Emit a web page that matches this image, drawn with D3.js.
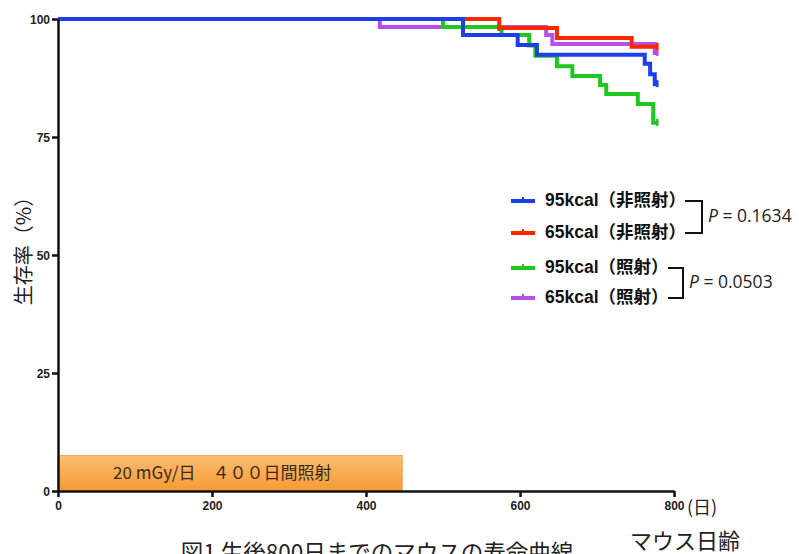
<!DOCTYPE html>
<html>
<head>
<meta charset="utf-8">
<script src="https://cdn.jsdelivr.net/npm/d3@7"></script>
<style>
  html, body { margin: 0; padding: 0; background: #fff; }
  svg { display: block; }
</style>
</head>
<body>
<svg id="chart" width="799" height="554"></svg>
<script>
// Survival (Kaplan-Meier) data: day of each step and survival % after it
const seriesNames = ["95kcal（非照射）", "65kcal（非照射）", "95kcal（照射）", "65kcal（照射）"];
const seriesColors = ["#1d3fe8", "#ff2600", "#1ec81e", "#b84fe6"];

const days95Ctrl = [0, 526, 597, 622, 762, 769, 775, 779];
const surv95Ctrl = [100, 96.6, 94.5, 92.4, 90.5, 88.3, 86.2, 86.2];

const days65Ctrl = [0, 573, 648, 745, 779];
const surv65Ctrl = [100, 98.1, 96.0, 94.1, 94.1];

const days95Irr = [0, 500, 576, 612, 620, 648, 668, 704, 712, 753, 773, 779];
const surv95Irr = [100, 98.3, 96.6, 94.4, 92.2, 90.0, 87.9, 86.0, 84.1, 82.0, 78.0, 78.0];

const days65Irr = [0, 418, 634, 642, 775, 779];
const surv65Irr = [100, 98.3, 96.6, 94.7, 92.8, 92.8];

// censored observations (tick marks)
const censor95Ctrl = [779];
const censor65Ctrl = [573, 779];
const censor95Irr = [779];
const censor65Irr = [779];

const yTicks = [0, 25, 50, 75, 100];
const xTicks = [0, 200, 400, 600, 800];

// irradiation period
const irradStart = 0;
const irradEnd = 447;
const irradLabel = "20 mGy/日　４００日間照射";

const pValues = ["0.1634", "0.0503"];

const yTitle = "生存率（%）";
const xUnit = "(日)";
const xTitle = "マウス日齢";
const figTitle = "図1 生後800日までのマウスの寿命曲線";

// ---------------------------------------------------------------
const svg = d3.select("#chart");
const latin = "'Liberation Sans', Arial, 'Noto Sans CJK JP', sans-serif";
const jp = "'Noto Sans CJK JP', 'Liberation Sans', sans-serif";

const x = d3.scaleLinear().domain([0, 800]).range([58, 674]);
const y = d3.scaleLinear().domain([0, 100]).range([491, 19]);

const defs = svg.append("defs");
const grad = defs.append("linearGradient").attr("id", "barGrad")
  .attr("x1", 0).attr("y1", 0).attr("x2", 0).attr("y2", 1);
grad.append("stop").attr("offset", "0%").attr("stop-color", "#fbbd72");
grad.append("stop").attr("offset", "100%").attr("stop-color", "#f69a33");

// irradiation bar
const barG = svg.append("g");
barG.append("rect")
  .attr("x", x(irradStart))
  .attr("y", y(7.5))
  .attr("width", x(irradEnd) - x(irradStart))
  .attr("height", y(0) - y(7.5))
  .attr("fill", "url(#barGrad)")
  .attr("stroke", "#f3a04a")
  .attr("stroke-width", 1);
barG.append("text")
  .attr("x", 113)
  .attr("y", (y(7.5) + y(0)) / 2 + 1)
  .attr("dominant-baseline", "middle")
  .attr("font-family", jp)
  .attr("font-size", 17)
  .attr("fill", "#3a2a1a")
  .text(irradLabel);

// survival curves (drawn bottom to top)
const series = [
  { days: days65Irr, surv: surv65Irr, censor: censor65Irr, color: seriesColors[3] },
  { days: days95Irr, surv: surv95Irr, censor: censor95Irr, color: seriesColors[2] },
  { days: days65Ctrl, surv: surv65Ctrl, censor: censor65Ctrl, color: seriesColors[1] },
  { days: days95Ctrl, surv: surv95Ctrl, censor: censor95Ctrl, color: seriesColors[0] }
];

const line = d3.line()
  .x(d => x(d[0]))
  .y(d => y(d[1]))
  .curve(d3.curveStepAfter);

function survAt(s, day) {
  let v = s.surv[0];
  for (let i = 0; i < s.days.length; i++) if (s.days[i] <= day) v = s.surv[i];
  return v;
}

const curves = svg.append("g");
series.forEach(s => {
  const pts = s.days.map((d, i) => [d, s.surv[i]]);
  curves.append("path")
    .attr("d", line(pts))
    .attr("fill", "none")
    .attr("stroke", s.color)
    .attr("stroke-width", 4)
    .attr("stroke-linejoin", "miter");
  curves.selectAll(null)
    .data(s.censor)
    .enter().append("line")
    .attr("x1", d => x(d) - 0.5).attr("x2", d => x(d) - 0.5)
    .attr("y1", d => y(survAt(s, d)) - 4)
    .attr("y2", d => y(survAt(s, d)) + 3)
    .attr("stroke", s.color)
    .attr("stroke-width", 2.5);
});

// axes
const yAxis = d3.axisLeft(y).tickValues(yTicks).tickSize(6).tickSizeOuter(0).tickPadding(2);
const xAxis = d3.axisBottom(x).tickValues(xTicks).tickSize(6).tickSizeOuter(0).tickPadding(4);

const gy = svg.append("g").attr("transform", `translate(${x(0)},0)`).call(yAxis);
const gx = svg.append("g").attr("transform", `translate(0,${y(0)})`).call(xAxis);

[gx, gy].forEach(g => {
  g.select(".domain").attr("stroke", "#111").attr("stroke-width", 2.5);
  g.selectAll(".tick line").attr("stroke", "#111").attr("stroke-width", 2.5);
  g.selectAll(".tick text")
    .attr("font-family", latin)
    .attr("font-weight", "bold")
    .attr("font-size", 12)
    .attr("fill", "#222");
});
gy.selectAll(".tick text").attr("dy", "0.35em");

// unit label after last x tick
svg.append("text")
  .attr("x", x(800) + 13)
  .attr("y", y(0) + 23)
  .attr("font-family", jp)
  .attr("font-size", 18)
  .attr("fill", "#222")
  .text(xUnit);

// axis titles
svg.append("text")
  .attr("transform", `translate(31,${246}) rotate(-90)`)
  .attr("text-anchor", "middle")
  .attr("font-family", jp)
  .attr("font-size", 20)
  .attr("fill", "#222")
  .text(yTitle);

svg.append("text")
  .attr("x", 685)
  .attr("y", 549)
  .attr("text-anchor", "middle")
  .attr("font-family", jp)
  .attr("font-size", 22)
  .attr("fill", "#222")
  .text(xTitle);

svg.append("text")
  .attr("x", 377)
  .attr("y", 561)
  .attr("text-anchor", "middle")
  .attr("font-family", jp)
  .attr("font-size", 22.5)
  .attr("fill", "#222")
  .text(figTitle);

// legend
const legendY = [201, 233, 268, 298];
const legend = svg.append("g");
seriesNames.forEach((name, i) => {
  const ly = legendY[i];
  legend.append("line")
    .attr("x1", 511).attr("x2", 535)
    .attr("y1", ly).attr("y2", ly)
    .attr("stroke", seriesColors[i]).attr("stroke-width", 4);
  legend.append("line")
    .attr("x1", 523).attr("x2", 523)
    .attr("y1", ly - 4).attr("y2", ly + 1)
    .attr("stroke", seriesColors[i]).attr("stroke-width", 2);
  legend.append("text")
    .attr("x", 545).attr("y", ly)
    .attr("dominant-baseline", "middle")
    .attr("font-family", latin)
    .attr("font-weight", "bold")
    .attr("font-size", 17.5)
    .attr("fill", "#111")
    .text(name);
});

// significance brackets
const brackets = [
  { top: legendY[0], bot: legendY[1], x0: 685, x1: 702, p: pValues[0] },
  { top: legendY[2], bot: legendY[3], x0: 668, x1: 683, p: pValues[1] }
];
brackets.forEach(b => {
  legend.append("path")
    .attr("d", `M${b.x0},${b.top}H${b.x1}V${b.bot}H${b.x0}`)
    .attr("fill", "none")
    .attr("stroke", "#111")
    .attr("stroke-width", 2);
  const t = legend.append("text")
    .attr("x", b.x1 + 6)
    .attr("y", (b.top + b.bot) / 2)
    .attr("dominant-baseline", "middle")
    .attr("font-family", "'Open Sans', 'Liberation Sans', sans-serif")
    .attr("font-size", 17.5)
    .attr("fill", "#222");
  t.append("tspan").attr("font-style", "italic").text("P");
  t.append("tspan").text(" = " + b.p);
});
</script>
</body>
</html>
